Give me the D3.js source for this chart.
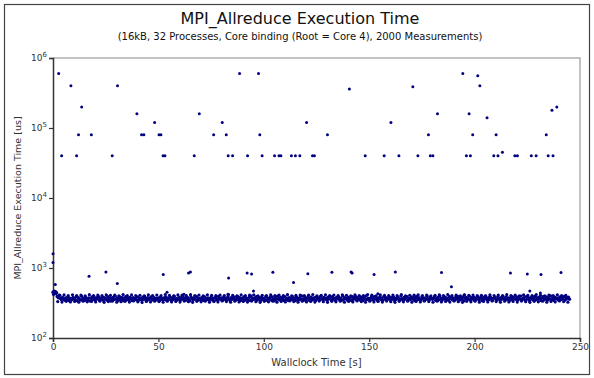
<!DOCTYPE html>
<html>
<head>
<meta charset="utf-8">
<script src="https://cdn.jsdelivr.net/npm/d3@7/dist/d3.min.js"></script>
<style>
  body { margin: 0; background: #fff; }
  text { font-family: "DejaVu Sans", sans-serif; fill: #333; }
</style>
</head>
<body>
<div id="chart"></div>
<script>
const titleText = 'MPI_Allreduce Execution Time';
const subtitleText = '(16kB, 32 Processes, Core binding (Root = Core 4), 2000 Measurements)';
const xLabel = 'Wallclock Time [s]';
const yLabel = 'MPI_Allreduce Execution Time [us]';
const xTicks = [0, 50, 100, 150, 200, 250];
const yTicks = [1e2, 1e3, 1e4, 1e5, 1e6];

// slow measurements [time s, latency us]
const outliers = [
  [0, 1600], [0, 1200], [1.1, 580], [0.3, 460], [0.6, 470], [0.9, 445], [1.4, 455], [1.8, 440],
  [2.7, 600000], [4.1, 40000], [8.5, 400000], [11.2, 40000], [12.1, 80000], [13.6, 200000],
  [17.1, 760], [18.2, 80000], [25.1, 880], [28.1, 40000], [30.5, 600], [30.6, 400000],
  [39.8, 160000], [42.0, 80000], [43.1, 80000], [48.2, 120000], [50.3, 80000], [51.2, 80000],
  [52.2, 40000], [53.1, 40000], [52.3, 810], [54.1, 450], [62.1, 420], [64.3, 850], [65.2, 880],
  [67.0, 40000], [69.4, 160000], [76.2, 80000], [80.3, 120000], [82.2, 80000], [83.1, 40000],
  [83.0, 420], [83.3, 720], [85.2, 40000], [88.5, 600000], [92.1, 850], [92.3, 40000],
  [94.2, 820], [95.1, 470], [97.5, 600000], [98.1, 80000], [99.2, 40000], [104.3, 870],
  [105.1, 40000], [107.2, 40000], [108.1, 40000], [113.1, 40000], [114.1, 620], [115.0, 40000],
  [117.1, 40000], [120.3, 120000], [120.9, 830], [123.1, 40000], [124.0, 40000], [130.2, 80000],
  [132.3, 870], [140.6, 360000], [141.4, 880], [141.9, 850], [148.1, 40000], [152.3, 810],
  [154.1, 430], [157.1, 40000], [160.3, 120000], [162.4, 880], [164.1, 40000], [170.7, 390000],
  [171.3, 410], [173.1, 40000], [178.1, 80000], [179.0, 40000], [180.2, 40000], [182.4, 160000],
  [184.3, 860], [189.0, 540], [194.4, 600000], [195.0, 410], [196.1, 40000], [197.4, 160000],
  [198.0, 40000], [199.1, 80000], [201.5, 560000], [202.5, 400000], [205.9, 140000],
  [209.1, 40000], [210.2, 80000], [211.1, 40000], [213.2, 45000], [217.0, 850], [219.1, 40000],
  [220.3, 40000], [225.0, 820], [226.2, 470], [226.9, 40000], [229.2, 40000], [231.2, 440],
  [231.5, 810], [234.0, 80000], [234.9, 40000], [236.7, 180000], [237.2, 40000], [239.0, 200000],
  [241.0, 860]
];

// regular measurements [time s, latency us]
const baseline = [
  [0,452],[0.5,438],[1,461],[1.5,447],[2,392],[2.5,376],[3,410],[3.5,368],[4,355],[4.5,381],[5,362],[5.5,349],[6,374],[6.5,358],[7,386],[7.5,344],[8,371],[8.5,365],[9,352],[9.5,379],
  [10,367],[10.5,353],[11,389],[11.5,341],[12,376],[12.5,360],[13,348],[13.5,395],[14,357],[14.5,370],[15,344],[15.5,382],[16,363],[16.5,351],[17,374],[17.5,339],[18,368],[18.5,386],[19,355],[19.5,372],
  [20,346],[20.5,378],[21,361],[21.5,392],[22,350],[22.5,369],[23,357],[23.5,383],[24,342],[24.5,375],[25,364],[25.5,349],[26,388],[26.5,356],[27,371],[27.5,338],[28,366],[28.5,380],[29,353],[29.5,397],
  [30,359],[30.5,374],[31,345],[31.5,368],[32,384],[32.5,352],[33,377],[33.5,340],[34,363],[34.5,390],[35,355],[35.5,372],[36,347],[36.5,381],[37,366],[37.5,343],[38,375],[38.5,358],[39,369],[39.5,351],
  [40,386],[40.5,344],[41,373],[41.5,361],[42,348],[42.5,379],[43,356],[43.5,393],[44,367],[44.5,341],[45,376],[45.5,353],[46,370],[46.5,385],[47,349],[47.5,362],[48,378],[48.5,345],[49,367],[49.5,357],
  [50,372],[50.5,340],[51,383],[51.5,365],[52,350],[52.5,374],[53,358],[53.5,387],[54,343],[54.5,369],[55,361],[55.5,380],[56,347],[56.5,376],[57,354],[57.5,395],[58,364],[58.5,342],[59,371],[59.5,356],
  [60,381],[60.5,348],[61,367],[61.5,389],[62,353],[62.5,373],[63,345],[63.5,362],[64,378],[64.5,357],[65,340],[65.5,384],[66,366],[66.5,351],[67,375],[67.5,359],[68,392],[68.5,346],[69,370],[69.5,363],
  [70,350],[70.5,377],[71,361],[71.5,343],[72,386],[72.5,368],[73,355],[73.5,374],[74,347],[74.5,364],[75,383],[75.5,352],[76,371],[76.5,339],[77,379],[77.5,360],[78,348],[78.5,391],[79,366],[79.5,354],
  [80,373],[80.5,345],[81,382],[81.5,358],[82,369],[82.5,350],[83,388],[83.5,362],[84,341],[84.5,376],[85,357],[85.5,370],[86,384],[86.5,346],[87,365],[87.5,393],[88,353],[88.5,378],[89,344],[89.5,367],
  [90,359],[90.5,386],[91,347],[91.5,372],[92,364],[92.5,351],[93,380],[93.5,343],[94,397],[94.5,369],[95,355],[95.5,374],[96,361],[96.5,389],[97,349],[97.5,368],[98,376],[98.5,342],[99,383],[99.5,357],
  [100,366],[100.5,353],[101,391],[101.5,345],[102,371],[102.5,360],[103,379],[103.5,348],[104,385],[104.5,362],[105,340],[105.5,374],[106,356],[106.5,396],[107,367],[107.5,350],[108,381],[108.5,359],[109,372],[109.5,344],
  [110,388],[110.5,355],[111,369],[111.5,347],[112,378],[112.5,363],[113,352],[113.5,392],[114,358],[114.5,373],[115,343],[115.5,384],[116,366],[116.5,349],[117,375],[117.5,357],[118,398],[118.5,361],[119,346],[119.5,380],
  [120,354],[120.5,371],[121,389],[121.5,345],[122,367],[122.5,382],[123,350],[123.5,363],[124,376],[124.5,341],[125,386],[125.5,359],[126,372],[126.5,348],[127,394],[127.5,365],[128,353],[128.5,379],[129,360],[129.5,370],
  [130,347],[130.5,383],[131,362],[131.5,374],[132,351],[132.5,390],[133,357],[133.5,368],[134,342],[134.5,379],[135,364],[135.5,387],[136,352],[136.5,371],[137,345],[137.5,396],[138,358],[138.5,375],[139,366],[139.5,349],
  [140,381],[140.5,360],[141,373],[141.5,344],[142,388],[142.5,355],[143,369],[143.5,392],[144,348],[144.5,377],[145,361],[145.5,350],[146,385],[146.5,367],[147,342],[147.5,374],[148,358],[148.5,399],[149,353],[149.5,370],
  [150,363],[150.5,346],[151,382],[151.5,371],[152,352],[152.5,389],[153,359],[153.5,376],[154,341],[154.5,368],[155,384],[155.5,355],[156,372],[156.5,347],[157,393],[157.5,362],[158,378],[158.5,351],[159,366],[159.5,387],
  [160,349],[160.5,375],[161,360],[161.5,386],[162,343],[162.5,370],[163,357],[163.5,381],[164,366],[164.5,352],[165,397],[165.5,364],[166,345],[166.5,379],[167,358],[167.5,372],[168,389],[168.5,347],[169,368],[169.5,355],
  [170,383],[170.5,361],[171,374],[171.5,344],[172,366],[172.5,391],[173,353],[173.5,377],[174,359],[174.5,348],[175,385],[175.5,369],[176,340],[176.5,373],[177,356],[177.5,394],[178,362],[178.5,350],[179,380],[179.5,367],
  [180,357],[180.5,372],[181,388],[181.5,346],[182,365],[182.5,379],[183,351],[183.5,398],[184,368],[184.5,343],[185,376],[185.5,360],[186,384],[186.5,354],[187,371],[187.5,347],[188,390],[188.5,363],[189,375],[189.5,352],
  [190,370],[190.5,345],[191,381],[191.5,359],[192,392],[192.5,366],[193,348],[193.5,374],[194,356],[194.5,387],[195,341],[195.5,369],[196,379],[196.5,353],[197,364],[197.5,396],[198,350],[198.5,377],[199,361],[199.5,384],
  [200,347],[200.5,373],[201,360],[201.5,389],[202,352],[202.5,368],[203,382],[203.5,344],[204,375],[204.5,358],[205,395],[205.5,363],[206,349],[206.5,378],[207,355],[207.5,386],[208,367],[208.5,342],[209,371],[209.5,380],
  [210,362],[210.5,351],[211,388],[211.5,370],[212,345],[212.5,377],[213,359],[213.5,393],[214,366],[214.5,348],[215,383],[215.5,356],[216,374],[216.5,341],[217,369],[217.5,391],[218,353],[218.5,380],[219,364],[219.5,357],
  [220,385],[220.5,349],[221,372],[221.5,361],[222,397],[222.5,354],[223,367],[223.5,378],[224,346],[224.5,389],[225,360],[225.5,375],[226,343],[226.5,371],[227,382],[227.5,355],[228,364],[228.5,392],[229,350],[229.5,376],
  [230,358],[230.5,381],[231,366],[231.5,344],[232,373],[232.5,390],[233,352],[233.5,368],[234,386],[234.5,347],[235,377],[235.5,361],[236,399],[236.5,355],[237,370],[237.5,345],[238,383],[238.5,363],[239,374],[239.5,351],
  [240,369],[240.5,387],[241,354],[241.5,378],[242,360],[242.5,392],[243,348],[243.5,375],[244,364],[244.5,383],[245,357]
];

// measurements in between, at the edges of the band [time s, latency us]
const baselineEdge = [
  [0.25,418],[1.25,429],[2.25,331],[3.25,407],[4.25,326],[5.25,412],[6.25,334],[7.25,403],[8.25,328],[9.25,415],
  [10.25,332],[11.25,405],[12.25,324],[13.25,410],[14.25,336],[15.25,401],[16.25,329],[17.25,416],[18.25,333],[19.25,404],
  [20.25,327],[21.25,411],[22.25,335],[23.25,402],[24.25,323],[25.25,414],[26.25,331],[27.25,406],[28.25,337],[29.25,409],
  [30.25,325],[31.25,400],[32.25,330],[33.25,417],[34.25,334],[35.25,403],[36.25,326],[37.25,412],[38.25,338],[39.25,405],
  [40.25,329],[41.25,408],[42.25,322],[43.25,401],[44.25,333],[45.25,415],[46.25,327],[47.25,404],[48.25,336],[49.25,410],
  [50.25,331],[51.25,402],[52.25,324],[53.25,418],[54.25,335],[55.25,406],[56.25,328],[57.25,400],[58.25,332],[59.25,413],
  [60.25,326],[61.25,409],[62.25,337],[63.25,403],[64.25,330],[65.25,416],[66.25,323],[67.25,405],[68.25,334],[69.25,411],
  [70.25,329],[71.25,401],[72.25,336],[73.25,414],[74.25,325],[75.25,407],[76.25,333],[77.25,402],[78.25,327],[79.25,410],
  [80.25,338],[81.25,404],[82.25,331],[83.25,417],[84.25,324],[85.25,406],[86.25,335],[87.25,400],[88.25,328],[89.25,412],
  [90.25,332],[91.25,403],[92.25,326],[93.25,409],[94.25,337],[95.25,415],[96.25,330],[97.25,401],[98.25,323],[99.25,408],
  [100.25,334],[101.25,405],[102.25,329],[103.25,413],[104.25,336],[105.25,402],[106.25,325],[107.25,410],[108.25,333],[109.25,404],
  [110.25,327],[111.25,416],[112.25,338],[113.25,400],[114.25,331],[115.25,407],[116.25,324],[117.25,411],[118.25,335],[119.25,403],
  [120.25,328],[121.25,409],[122.25,332],[123.25,418],[124.25,326],[125.25,401],[126.25,337],[127.25,406],[128.25,330],[129.25,414],
  [130.25,323],[131.25,404],[132.25,334],[133.25,410],[134.25,329],[135.25,402],[136.25,336],[137.25,415],[138.25,325],[139.25,408],
  [140.25,333],[141.25,400],[142.25,327],[143.25,412],[144.25,338],[145.25,405],[146.25,331],[147.25,403],[148.25,324],[149.25,417],
  [150.25,335],[151.25,409],[152.25,328],[153.25,401],[154.25,332],[155.25,413],[156.25,326],[157.25,406],[158.25,337],[159.25,402],
  [160.25,330],[161.25,411],[162.25,323],[163.25,404],[164.25,334],[165.25,416],[166.25,329],[167.25,400],[168.25,336],[169.25,408],
  [170.25,325],[171.25,403],[172.25,333],[173.25,414],[174.25,327],[175.25,405],[176.25,338],[177.25,410],[178.25,331],[179.25,401],
  [180.25,324],[181.25,407],[182.25,335],[183.25,412],[184.25,328],[185.25,404],[186.25,332],[187.25,418],[188.25,326],[189.25,402],
  [190.25,337],[191.25,409],[192.25,330],[193.25,400],[194.25,323],[195.25,415],[196.25,334],[197.25,406],[198.25,329],[199.25,411],
  [200.25,336],[201.25,403],[202.25,325],[203.25,408],[204.25,333],[205.25,401],[206.25,327],[207.25,413],[208.25,338],[209.25,405],
  [210.25,331],[211.25,410],[212.25,324],[213.25,402],[214.25,335],[215.25,416],[216.25,328],[217.25,404],[218.25,332],[219.25,409],
  [220.25,326],[221.25,400],[222.25,337],[223.25,412],[224.25,330],[225.25,406],[226.25,323],[227.25,403],[228.25,334],[229.25,417],
  [230.25,329],[231.25,407],[232.25,336],[233.25,401],[234.25,325],[235.25,411],[236.25,333],[237.25,404],[238.25,327],[239.25,414],
  [240.25,338],[241.25,402],[242.25,331],[243.25,408],[244.25,324]
];

const width = 594;
const height = 378;
const marginLeft = 53;
const marginRight = 14;
const marginTop = 58;
const marginBottom = 40;

const svg = d3.select('#chart')
  .append('svg')
  .attr('width', width)
  .attr('height', height);

svg.append('rect')
  .attr('width', width)
  .attr('height', height)
  .attr('fill', '#fff');

// outer frame
svg.append('rect')
  .attr('x', 4.5)
  .attr('y', 4.5)
  .attr('width', width - 9)
  .attr('height', height - 8)
  .attr('fill', 'none')
  .attr('stroke', '#444')
  .attr('stroke-width', 1.2);

const x = d3.scaleLinear()
  .domain([0, 250])
  .range([marginLeft, width - marginRight]);

const y = d3.scaleLog()
  .domain([1e2, 1e6])
  .range([height - marginBottom, marginTop]);

// light top / right border
svg.append('path')
  .attr('d', 'M' + x(0) + ',' + y(1e6) + 'H' + x(250) + 'V' + y(1e2))
  .attr('fill', 'none')
  .attr('stroke', '#b0b0b0')
  .attr('stroke-width', 1.5);

// titles
svg.append('text')
  .attr('x', 300)
  .attr('y', 24)
  .attr('text-anchor', 'middle')
  .style('font-size', '16px')
  .style('fill', '#111')
  .text(titleText);

svg.append('text')
  .attr('x', 300)
  .attr('y', 40)
  .attr('text-anchor', 'middle')
  .style('font-size', '10px')
  .style('fill', '#111')
  .text(subtitleText);

// x axis
const xAxis = d3.axisBottom(x)
  .tickValues(xTicks)
  .tickSize(4)
  .tickPadding(2)
  .tickFormat(d3.format('d'));

const gx = svg.append('g')
  .attr('transform', 'translate(0,' + y(1e2) + ')')
  .call(xAxis);
gx.select('.domain').attr('stroke', '#333').attr('stroke-width', 1.5);
gx.selectAll('.tick line').attr('stroke', '#333').attr('stroke-width', 1.2);
gx.selectAll('.tick text')
  .style('font-size', '9px')
  .style('font-family', '"DejaVu Sans", sans-serif')
  .attr('fill', '#333');

// y axis
const yAxis = d3.axisLeft(y)
  .tickValues(yTicks)
  .tickSize(4)
  .tickFormat(() => '');

const gy = svg.append('g')
  .attr('transform', 'translate(' + x(0) + ',0)')
  .call(yAxis);
gy.select('.domain').attr('stroke', '#333').attr('stroke-width', 1.5);
gy.selectAll('.tick line').attr('stroke', '#333').attr('stroke-width', 1.2);

const yLabels = svg.append('g');
yTicks.forEach((d) => {
  const t = yLabels.append('text')
    .attr('x', x(0) - 6)
    .attr('y', y(d) + 3)
    .attr('text-anchor', 'end')
    .style('font-size', '9px');
  t.append('tspan').text('10');
  t.append('tspan')
    .attr('dy', -4)
    .style('font-size', '7px')
    .text(Math.round(Math.log10(d)));
});

svg.append('text')
  .attr('x', (x(0) + x(250)) / 2)
  .attr('y', 366)
  .attr('text-anchor', 'middle')
  .style('font-size', '10px')
  .text(xLabel);

svg.append('text')
  .attr('transform', 'translate(21,' + (y(1e2) + y(1e6)) / 2 + ') rotate(-90)')
  .attr('text-anchor', 'middle')
  .style('font-size', '9.5px')
  .text(yLabel);

// points
const pts = svg.append('g').attr('fill', '#000080');
pts.selectAll('circle.edge')
  .data(baselineEdge)
  .enter()
  .append('circle')
  .attr('class', 'edge')
  .attr('cx', (d) => x(d[0]))
  .attr('cy', (d) => y(d[1]))
  .attr('r', 1.6);

pts.selectAll('circle.base')
  .data(baseline)
  .enter()
  .append('circle')
  .attr('class', 'base')
  .attr('cx', (d) => x(d[0]))
  .attr('cy', (d) => y(d[1]))
  .attr('r', 1.7);

pts.selectAll('circle.slow')
  .data(outliers)
  .enter()
  .append('circle')
  .attr('class', 'slow')
  .attr('cx', (d) => x(d[0]))
  .attr('cy', (d) => y(d[1]))
  .attr('r', 1.5);
</script>
</body>
</html>
